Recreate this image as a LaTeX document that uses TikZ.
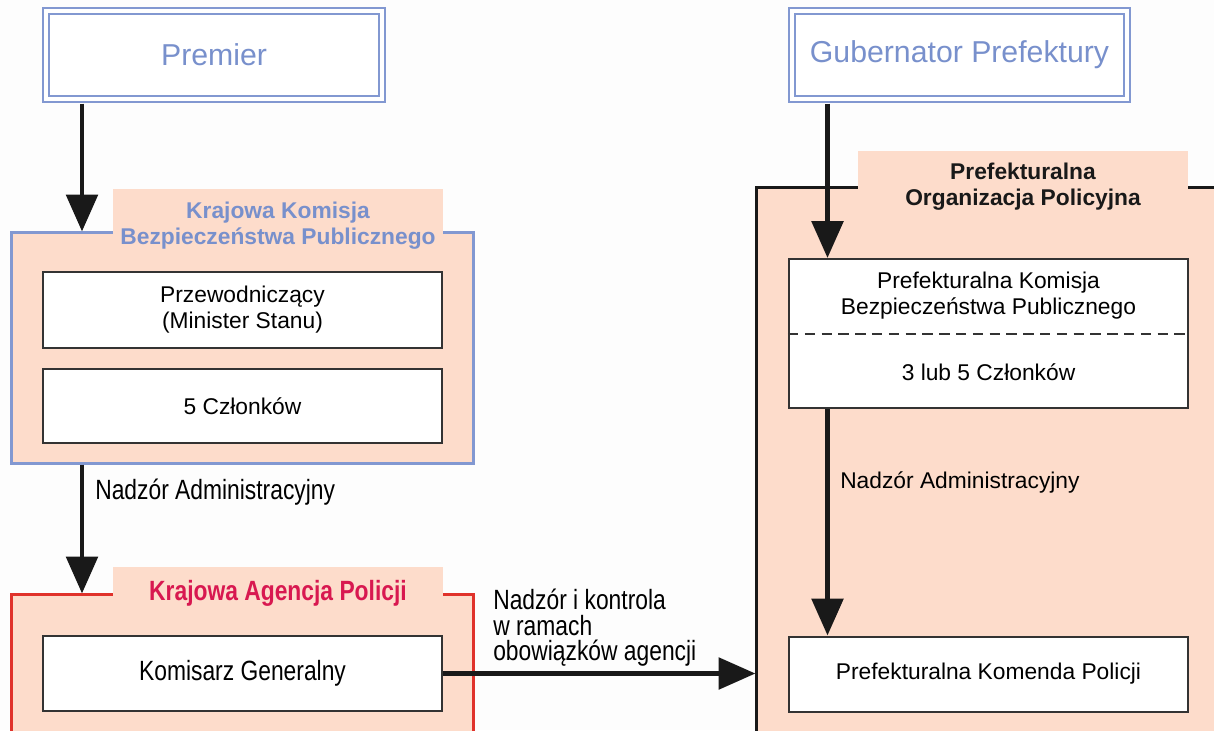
\documentclass[tikz,border=0pt]{standalone}
\usepackage{fontspec}
\setmainfont{Liberation Sans}
\newfontfamily\narrowfont[FakeStretch=0.82]{Liberation Sans}
\usepackage{xcolor}
\usetikzlibrary{arrows.meta}

\definecolor{peach}{HTML}{FDDCCB}
\definecolor{blueline}{HTML}{8298D1}
\definecolor{bluetext}{HTML}{7890CC}
\definecolor{redline}{HTML}{E0322B}
\definecolor{redtext}{HTML}{D81850}
\definecolor{boxline}{HTML}{333333}
\definecolor{bg}{HTML}{FDFDFD}

\newcommand{\bodyfont}{\fontsize{16.2}{18.5}\selectfont}
\newcommand{\narrowtext}{\narrowfont\fontsize{19.8}{18.1}\selectfont}

\begin{document}
\begin{tikzpicture}[x=0.025cm, y=-0.025cm,
    topbox/.style={draw=blueline, line width=0.05cm, double=white, double distance=0.1cm,
        fill=white, inner sep=0, minimum width=8.4cm, minimum height=2.175cm,
        font=\fontsize{21.5}{24}\selectfont, text=bluetext},
    contbox/.style={fill=peach, line width=0.075cm, inner sep=0, minimum width=11.525cm},
    tabbox/.style={fill=peach, inner sep=0, minimum width=8.25cm, align=center,
        font=\bodyfont\bfseries},
    inbox/.style={draw=boxline, line width=0.05cm, fill=white, inner sep=0,
        minimum width=9.975cm, align=center, font=\bodyfont},
    lbl/.style={anchor=west, inner sep=0, align=left},
    arr/.style={line width=0.12cm, black!90, -{Triangle[length=0.92cm, width=0.78cm]}}]

    \useasboundingbox (0,0) rectangle (1214,730);
    \clip (0,0) rectangle (1214,730);
    \fill[bg] (0,0) rectangle (1214,730);

    % Containers
    \node[contbox, draw=blueline, minimum height=5.75cm] (kkbp) at (242.5,348) {};
    \node[contbox, draw=redline, minimum height=4.375cm] (kap) at (242.5,682.5) {};
    \node[contbox, draw=black!90, minimum width=12.325cm, minimum height=14.55cm] (pop) at (1003.5,479) {};

    % Tabs
    \node[tabbox, text=bluetext, minimum height=1.85cm] (kkbptab) at (278,226)
        {Krajowa Komisja\\Bezpieczeństwa Publicznego};
    \node[tabbox, text=redtext, minimum height=1.3cm, font=\narrowtext\bfseries] (kaptab) at (278,593)
        {Krajowa Agencja Policji};
    \node[tabbox, text=black!90, minimum height=1.8cm] (poptab) at (1023,187)
        {Prefekturalna\\Organizacja Policyjna};

    % Inner boxes, left
    \node[inbox, minimum height=1.9cm] (przew) at (242.5,310)
        {Przewodniczący\\(Minister Stanu)};
    \node[inbox, minimum height=1.85cm] (czl) at (242.5,406) {5 Członków};
    \node[inbox, minimum height=1.875cm, font=\narrowtext] (kom) at (242.5,673.5)
        {Komisarz Generalny};

    % Inner boxes, right
    \node[inbox, minimum height=3.725cm] (pkbp) at (988.5,333.5) {};
    \draw[dash pattern=on 0.26cm off 0.16cm, line width=0.05cm, boxline] (pkbp.west) -- (pkbp.east);
    \node[align=center, font=\bodyfont] (pkbptxt) at (988.5,296)
        {Prefekturalna Komisja\\Bezpieczeństwa Publicznego};
    \node[font=\bodyfont] (pkbpczl) at (988.5,372) {3 lub 5 Członków};
    \node[inbox, minimum height=1.875cm] (pkp) at (988.5,674) {Prefekturalna Komenda Policji};

    % Top boxes
    \node[topbox] (prem) at (214,55) {Premier};
    \node[topbox, minimum width=8.375cm] (gub) at (959.5,55) {Gubernator Prefektury};

    % Labels
    \node[lbl, font=\narrowtext] (nadzor1) at (95,492) {Nadzór Administracyjny};
    \node[lbl, font=\bodyfont] (nadzor2) at (840,482) {Nadzór Administracyjny};
    \node[lbl, font=\narrowtext] (nadzor3) at (493,628)
        {Nadzór i kontrola\\w ramach\\obowiązków agencji};

    % Arrows
    \coordinate (lx) at (82,0);
    \coordinate (rx) at (827.5,0);
    \draw[arr, shorten <=0.1cm] (prem.south -| lx) -- (kkbp.north -| lx);
    \draw[arr] (kkbp.south -| lx) -- (kap.north -| lx);
    \draw[arr] (kom.east) -- (kom.east -| pop.west);
    \draw[arr, shorten <=0.1cm] (gub.south -| rx) -- (pkbp.north -| rx);
    \draw[arr] (pkbp.south -| rx) -- (pkp.north -| rx);
\end{tikzpicture}
\end{document}
